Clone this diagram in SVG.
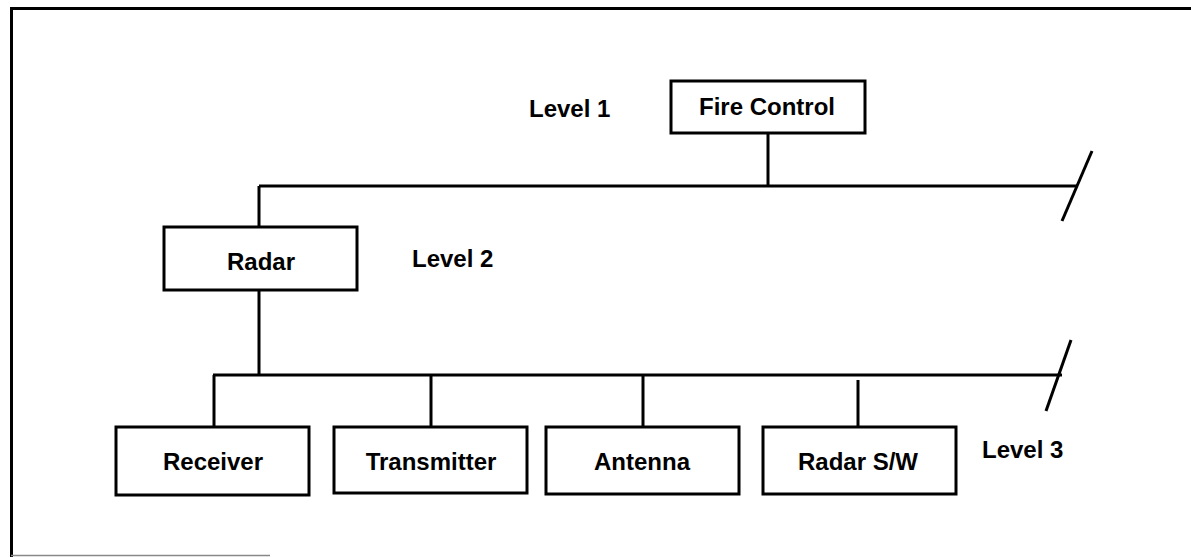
<svg xmlns="http://www.w3.org/2000/svg" width="1191" height="557" viewBox="0 0 1191 557">
<style>
.box{fill:#fff;stroke:#000;stroke-width:3}
.lbl{font-family:"Liberation Sans",Arial,Helvetica,sans-serif;font-weight:bold;font-size:24px;fill:#000}
.c{text-anchor:middle}
.ln{stroke:#000;stroke-width:3;fill:none}
</style>
<rect width="1191" height="557" fill="#fff"/>
<g id="frame">
<path d="M11.5 557 V8.5 H1191" class="ln"/>
<line x1="11" y1="555.5" x2="270" y2="555.5" stroke="#888" stroke-width="1.5"/>
</g>
<g id="connectors">
<line class="ln" x1="768" y1="133" x2="768" y2="186"/>
<line class="ln" x1="259" y1="186" x2="1077" y2="186"/>
<line class="ln" x1="1092" y1="151" x2="1062" y2="221"/>
<line class="ln" x1="259" y1="186" x2="259" y2="227"/>
<line class="ln" x1="259" y1="290" x2="259" y2="375"/>
<line class="ln" x1="213" y1="375" x2="1062" y2="375"/>
<line class="ln" x1="1071" y1="340" x2="1046" y2="411"/>
<line class="ln" x1="214" y1="375" x2="214" y2="427"/>
<line class="ln" x1="431" y1="375" x2="431" y2="427"/>
<line class="ln" x1="643" y1="375" x2="643" y2="427"/>
<line class="ln" x1="858" y1="380" x2="858" y2="427"/>
</g>
<g id="fire-control">
<rect class="box" x="671" y="81" width="194" height="52"/>
<text class="lbl c" x="767" y="115">Fire Control</text>
</g>
<g id="radar">
<rect class="box" x="164" y="227" width="193" height="63"/>
<text class="lbl c" x="261" y="270">Radar</text>
</g>
<g id="receiver">
<rect class="box" x="116" y="427" width="193" height="68"/>
<text class="lbl c" x="213" y="470">Receiver</text>
</g>
<g id="transmitter">
<rect class="box" x="334" y="427" width="193" height="66"/>
<text class="lbl c" x="431" y="470">Transmitter</text>
</g>
<g id="antenna">
<rect class="box" x="546" y="427" width="193" height="67"/>
<text class="lbl c" x="642" y="470">Antenna</text>
</g>
<g id="radar-sw">
<rect class="box" x="763" y="427" width="193" height="67"/>
<text class="lbl c" x="858" y="470">Radar S/W</text>
</g>
<g id="levels">
<text class="lbl" x="529" y="117">Level 1</text>
<text class="lbl" x="412" y="267">Level 2</text>
<text class="lbl" x="982" y="458">Level 3</text>
</g>
</svg>
